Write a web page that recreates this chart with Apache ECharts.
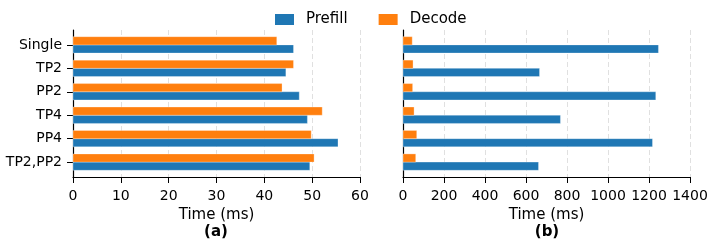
<!DOCTYPE html>
<html><head><meta charset="utf-8">
<script src="https://cdn.jsdelivr.net/npm/echarts@6/dist/echarts.min.js"></script>
<style>html,body{margin:0;padding:0;background:#fff}#c{width:714px;height:246px}</style>
</head><body><div id="c"></div>
<script>
const categories = ['Single','TP2','PP2','TP4','PP4','TP2,PP2'];
const prefillA = [46.1, 44.5, 47.3, 49.0, 55.4, 49.5];
const decodeA  = [42.6, 46.1, 43.7, 52.1, 49.8, 50.4];
const prefillB = [1246, 666, 1233, 768, 1217, 661];
const decodeB  = [45, 49, 47, 54, 67, 62];
const ticksA = [0,10,20,30,40,50,60];
const ticksB = [0,200,400,600,800,1000,1200,1400];

const BLUE = '#1f77b4', ORANGE = '#ff7f0e';
const FONT = 'DejaVu Sans';
const BARH = 0.35;

const chart = echarts.init(document.getElementById('c'), null, {renderer:'canvas'});

function barSeries(name, values, color, offset, gridIdx) {
  return {
    name, type: 'custom', xAxisIndex: gridIdx, yAxisIndex: gridIdx,
    itemStyle: {color},
    data: values.map((v, i) => [v, i]),
    encode: {x: 0, y: 1},
    renderItem: (params, api) => {
      const v = api.value(0), idx = api.value(1);
      const p0 = api.coord([0, idx + offset - BARH/2]);
      const p1 = api.coord([v, idx + offset + BARH/2]);
      const y = Math.min(p0[1], p1[1]);
      return {type: 'rect',
        shape: {x: p0[0], y: y, width: p1[0]-p0[0], height: Math.abs(p1[1]-p0[1])},
        style: {fill: color, stroke: 'rgba(255,255,255,0.5)', lineWidth: 0.6}};
    }
  };
}

function xAxis(gridIndex, ticks) {
  return {
    type: 'value', gridIndex, position: 'bottom', min: ticks[0], max: ticks[ticks.length-1],
    interval: ticks[1]-ticks[0],
    name: 'Time (ms)', nameLocation: 'middle', nameGap: 30,
    nameTextStyle: {fontFamily: FONT, fontSize: 15, color: '#000'},
    axisLine: {show: true, onZero: false, lineStyle: {color: '#000', width: 1.2}},
    axisTick: {show: true, length: 6, lineStyle: {color: '#000', width: 1}},
    axisLabel: {fontFamily: FONT, fontSize: 14, color: '#000', margin: 12, formatter: v => String(v)},
    splitLine: {show: true, lineStyle: {color: '#dcdcdc', type: [5,3], width: 0.9}}
  };
}
function yAxis(gridIndex, showLabels) {
  return {
    type: 'value', gridIndex, inverse: true, min: -0.635, max: 5.635,
    axisLine: {show: true, onZero: false, lineStyle: {color: '#000', width: 1.2}},
    axisTick: {show: showLabels, length: 6, customValues: categories.map((c,i)=>i), lineStyle: {color:'#000'}},
    axisLabel: {show: showLabels, customValues: categories.map((c,i)=>i),
      formatter: v => categories[Math.round(v)], fontFamily: FONT, fontSize: 14, color: '#000', margin: 11},
    splitLine: {show: false}
  };
}

chart.setOption({
  animation: false,
  backgroundColor: '#fff',
  legend: {
    top: 12, left: 275, padding: 0, itemWidth: 19, itemHeight: 11, itemGap: 31,
    textStyle: {fontFamily: FONT, fontSize: 15, color: '#000', padding: [0,0,0,7]},
    data: [{name: 'Prefill', icon: 'rect', itemStyle: {color: BLUE}},
           {name: 'Decode', icon: 'rect', itemStyle: {color: ORANGE}}]
  },
  title: [
    {text: '(a)', left: 216, top: 225, textAlign: 'center', padding: 0,
     textStyle: {fontFamily: FONT, fontSize: 15, fontWeight: 'bold', color: '#000'}},
    {text: '(b)', left: 547, top: 225, textAlign: 'center', padding: 0,
     textStyle: {fontFamily: FONT, fontSize: 15, fontWeight: 'bold', color: '#000'}}
  ],
  grid: [
    {left: 73, right: 354, top: 30, bottom: 69},
    {left: 403, right: 24, top: 30, bottom: 69}
  ],
  xAxis: [xAxis(0, ticksA), xAxis(1, ticksB)],
  yAxis: [yAxis(0, true), yAxis(1, false)],
  series: [
    barSeries('Prefill', prefillA, BLUE, BARH/2, 0),
    barSeries('Decode', decodeA, ORANGE, -BARH/2, 0),
    barSeries('Prefill', prefillB, BLUE, BARH/2, 1),
    barSeries('Decode', decodeB, ORANGE, -BARH/2, 1)
  ]
});
</script></body></html>
